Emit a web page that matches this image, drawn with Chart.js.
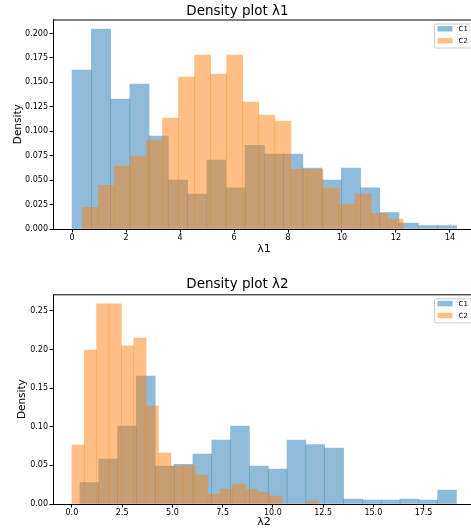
<!DOCTYPE html>
<html>
<head>
<meta charset="utf-8">
<script src="https://cdn.jsdelivr.net/npm/chart.js@4.4.1/dist/chart.umd.min.js"></script>
<style>
    html, body { margin: 0; padding: 0; background: #fff; overflow: hidden; width: 471px; height: 532px; }
    #wrap { position: relative; width: 480px; height: 532px; }
    canvas { position: absolute; left: 0; display: block; }
    #chart1 { top: 0; }
    #chart2 { top: 266px; }
</style>
</head>
<body>
<div id="wrap">
    <canvas id="chart1" width="480" height="262"></canvas>
    <canvas id="chart2" width="480" height="266"></canvas>
</div>
<script>
// series labels
var seriesNames = ['C1', 'C2'];

// lambda 1 histograms (bin edges + density per bin)
var lam1C1Edges = [0, 0.71, 1.43, 2.14, 2.85, 3.56, 4.28, 4.99, 5.70, 6.41, 7.13, 7.84, 8.55, 9.26, 9.98, 10.69, 11.40, 12.11, 12.83, 13.54, 14.25];
var lam1C1Dens = [0.1625, 0.2044, 0.1328, 0.1482, 0.0950, 0.0500, 0.0358, 0.0705, 0.0420, 0.0855, 0.0766, 0.0766, 0.0623, 0.0500, 0.0623, 0.0420, 0.0167, 0.0061, 0.0034, 0.0034];
var lam1C2Edges = [0.37, 0.97, 1.56, 2.16, 2.75, 3.35, 3.94, 4.54, 5.13, 5.73, 6.32, 6.92, 7.51, 8.11, 8.70, 9.30, 9.89, 10.49, 11.08, 11.68, 12.27];
var lam1C2Dens = [0.0221, 0.0446, 0.0644, 0.0746, 0.0910, 0.1134, 0.1553, 0.1778, 0.1584, 0.1778, 0.1298, 0.1165, 0.1104, 0.0610, 0.0610, 0.0419, 0.0255, 0.0358, 0.0160, 0.0102];

// lambda 2 histograms
var lam2C1Edges = [0.40, 1.34, 2.27, 3.21, 4.15, 5.09, 6.02, 6.96, 7.90, 8.83, 9.77, 10.71, 11.64, 12.58, 13.52, 14.46, 15.39, 16.33, 17.27, 18.20, 19.14];
var lam2C1Dens = [0.0276, 0.0583, 0.1010, 0.1658, 0.0492, 0.0514, 0.0648, 0.0829, 0.1010, 0.0492, 0.0453, 0.0829, 0.0769, 0.0725, 0.0065, 0.0052, 0.0052, 0.0065, 0.0052, 0.0181];
var lam2C2Edges = [0, 0.62, 1.23, 1.85, 2.46, 3.08, 3.69, 4.31, 4.92, 5.54, 6.15, 6.77, 7.38, 8.00, 8.61, 9.23, 9.84, 10.46, 11.07, 11.69, 12.30];
var lam2C2Dens = [0.0764, 0.1995, 0.2591, 0.2591, 0.2047, 0.2150, 0.1269, 0.0661, 0.0492, 0.0501, 0.0376, 0.0130, 0.0194, 0.0259, 0.0194, 0.0155, 0.0104, 0, 0, 0.0039];

// tick values
var lam1XTicks = [0, 2, 4, 6, 8, 10, 12, 14];
var lam1YTicks = [0, 0.025, 0.05, 0.075, 0.1, 0.125, 0.15, 0.175, 0.2];
var lam2XTicks = [0, 2.5, 5, 7.5, 10, 12.5, 15, 17.5];
var lam2YTicks = [0, 0.05, 0.1, 0.15, 0.2, 0.25];

Chart.defaults.font.family = "'DejaVu Sans', sans-serif";
Chart.defaults.color = '#000';

// turn edges + densities into bars at bin centres
function toBars(edges, dens) {
    var pts = [];
    for (var i = 0; i < dens.length; i++) {
        pts.push({ x: (edges[i] + edges[i + 1]) / 2, y: dens[i] });
    }
    return pts;
}

// top + right spines like matplotlib
var framePlugin = {
    id: 'frame',
    afterDraw: function (chart) {
        var a = chart.chartArea, ctx = chart.ctx;
        ctx.save();
        ctx.strokeStyle = '#000';
        ctx.lineWidth = 1;
        ctx.beginPath();
        ctx.moveTo(a.left, a.top + 0.5);
        ctx.lineTo(a.right, a.top + 0.5);
        ctx.lineTo(a.right, a.bottom);
        ctx.stroke();
        ctx.restore();
    }
};

// legend box in the upper right corner of the plot
var boxLegend = {
    id: 'boxLegend',
    afterDatasetsDraw: function (chart) {
        var a = chart.chartArea, ctx = chart.ctx;
        var left = a.right - 41, top = a.top + 4;
        ctx.save();
        ctx.fillStyle = 'rgba(255,255,255,0.8)';
        ctx.strokeStyle = '#cccccc';
        ctx.lineWidth = 1;
        ctx.beginPath();
        ctx.roundRect(left + 0.5, top + 0.5, 50, 24, 2);
        ctx.fill();
        ctx.stroke();
        ctx.font = "7px 'DejaVu Sans'";
        ctx.textBaseline = 'middle';
        chart.data.datasets.forEach(function (ds, i) {
            var rowTop = top + 2.5 + i * 12;
            ctx.fillStyle = ds.backgroundColor;
            ctx.fillRect(left + 3.5, rowTop, 15, 5.5);
            ctx.fillStyle = '#000';
            ctx.fillText(ds.label, left + 24.5, rowTop + 3);
        });
        ctx.restore();
    }
};

function makeChart(id, opts) {
    var ctx = document.getElementById(id).getContext('2d');
    return new Chart(ctx, {
        type: 'bar',
        data: {
            datasets: [{
                label: seriesNames[0],
                data: toBars(opts.c1Edges, opts.c1Dens),
                backgroundColor: 'rgba(31, 119, 180, 0.5)',
                borderWidth: 0,
                order: 2
            }, {
                label: seriesNames[1],
                data: toBars(opts.c2Edges, opts.c2Dens),
                backgroundColor: 'rgba(255, 127, 14, 0.5)',
                borderWidth: 0,
                order: 1
            }]
        },
        options: {
            responsive: false,
            animation: false,
            barThickness: 'flex',
            barPercentage: 1,
            categoryPercentage: 1,
            layout: { padding: { left: 0, right: 5, top: 0, bottom: 0 } },
            plugins: {
                legend: { display: false },
                tooltip: { enabled: false },
                title: {
                    display: true,
                    text: opts.title,
                    color: '#000',
                    font: { size: 13.5, weight: 'normal' },
                    padding: opts.titlePad
                }
            },
            scales: {
                x: {
                    type: 'linear',
                    stacked: true,
                    offset: false,
                    min: opts.xMin,
                    max: opts.xMax,
                    afterBuildTicks: function (scale) {
                        scale.ticks = opts.xTicks.map(function (v) { return { value: v }; });
                    },
                    afterFit: function (scale) { scale.height = opts.xHeight; },
                    grid: { drawOnChartArea: false, offset: false, tickLength: 3.5, tickColor: '#000' },
                    border: { color: '#000', width: 1 },
                    ticks: {
                        font: { size: 8 },
                        color: '#000',
                        padding: 1,
                        maxRotation: 0,
                        callback: function (v) { return opts.xFmt(v); }
                    },
                    title: {
                        display: true,
                        text: opts.xTitle,
                        font: { size: 11 },
                        color: '#000',
                        padding: { top: 0, bottom: opts.xTitlePad }
                    }
                },
                y: {
                    stacked: false,
                    min: 0,
                    max: opts.yMax,
                    afterBuildTicks: function (scale) {
                        scale.ticks = opts.yTicks.map(function (v) { return { value: v }; });
                    },
                    afterFit: function (scale) { scale.width = 53; },
                    grid: { drawOnChartArea: false, tickLength: 3.5, tickColor: '#000' },
                    border: { color: '#000', width: 1 },
                    ticks: {
                        font: { size: 8 },
                        color: '#000',
                        padding: 1.5,
                        callback: function (v) { return v.toFixed(opts.yDigits); }
                    },
                    title: {
                        display: true,
                        text: 'Density',
                        font: { size: 10.5 },
                        color: '#000',
                        padding: { top: opts.yTitlePad, bottom: 0 }
                    }
                }
            }
        },
        plugins: [framePlugin, boxLegend]
    });
}

document.addEventListener('DOMContentLoaded', function () {
    makeChart('chart1', {
        title: 'Density plot λ1',
        titlePad: { top: 2.9, bottom: 0.4 },
        c1Edges: lam1C1Edges, c1Dens: lam1C1Dens,
        c2Edges: lam1C2Edges, c2Dens: lam1C2Dens,
        xMin: -0.71, xMax: 14.93,
        xTicks: lam1XTicks,
        xFmt: function (v) { return String(v); },
        xHeight: 33,
        xTitle: 'λ1',
        xTitlePad: 6.4,
        yMax: 0.2143,
        yTicks: lam1YTicks,
        yDigits: 3,
        yTitlePad: 11.7
    });

    makeChart('chart2', {
        title: 'Density plot λ2',
        titlePad: { top: 9.9, bottom: 2.2 },
        c1Edges: lam2C1Edges, c1Dens: lam2C1Dens,
        c2Edges: lam2C2Edges, c2Dens: lam2C2Dens,
        xMin: -0.94, xMax: 20.06,
        xTicks: lam2XTicks,
        xFmt: function (v) { return v.toFixed(1); },
        xHeight: 28,
        xTitle: 'λ2',
        xTitlePad: 3.7,
        yMax: 0.2716,
        yTicks: lam2YTicks,
        yDigits: 2,
        yTitlePad: 16.2
    });
});
</script>
</body>
</html>
